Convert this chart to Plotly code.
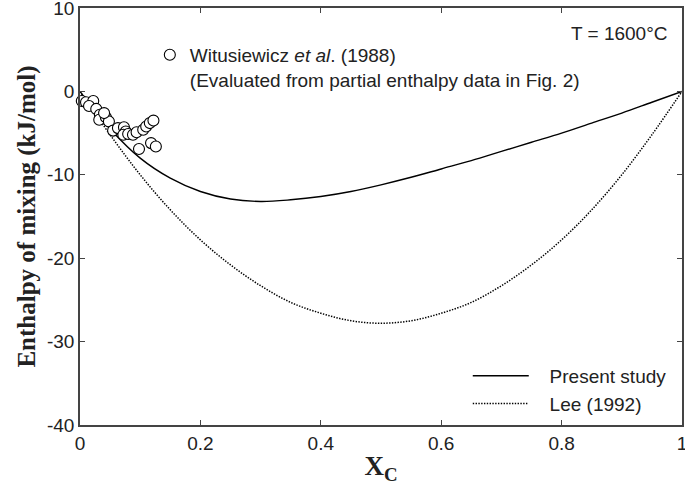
import plotly.graph_objects as go

# Witusiewicz et al. (1988) evaluated points
wit_x = [0.003, 0.010, 0.022, 0.015, 0.027, 0.033, 0.032, 0.043, 0.048, 0.040,
         0.055, 0.063, 0.073, 0.076, 0.072, 0.080, 0.088, 0.094, 0.105, 0.110,
         0.116, 0.122, 0.098, 0.118, 0.126]
wit_y = [-1.15, -1.3, -1.15, -1.75, -2.1, -2.8, -3.4, -3.1, -3.6, -2.6,
         -4.7, -4.4, -4.3, -4.8, -5.2, -5.1, -5.2, -4.9, -4.6, -4.2,
         -3.8, -3.5, -6.9, -6.2, -6.6]

# Present study (calculated)
ps_x = [0, 0.02, 0.05, 0.1, 0.15, 0.2, 0.25, 0.3, 0.35, 0.4, 0.45, 0.5,
        0.55, 0.6, 0.65, 0.7, 0.75, 0.8, 0.85, 0.9, 0.95, 1.0]
ps_y = [0, -1.9, -4.5, -8.0, -10.4, -12.0, -12.9, -13.2, -13.0, -12.6, -12.0, -11.2,
        -10.3, -9.3, -8.3, -7.2, -6.1, -5.0, -3.8, -2.6, -1.3, 0]

# Lee (1992)
lee_x = [0, 0.05, 0.1, 0.15, 0.2, 0.25, 0.3, 0.35, 0.4, 0.45, 0.5,
         0.55, 0.6, 0.65, 0.7, 0.75, 0.8, 0.85, 0.9, 0.95, 1.0]
lee_y = [0, -5.2, -10.0, -14.2, -17.8, -20.8, -23.3, -25.3, -26.6, -27.5, -27.8,
         -27.5, -26.6, -25.3, -23.3, -20.8, -17.8, -14.2, -10.0, -5.2, 0]

x_ticks = [0, 0.2, 0.4, 0.6, 0.8, 1]
x_tick_labels = ["0", "0.2", "0.4", "0.6", "0.8", "1"]
y_ticks = [-40, -30, -20, -10, 0, 10]
y_tick_labels = ["-40", "-30", "-20", "-10", "0", "10"]

FONT = "Liberation Sans, Arial, sans-serif"
SERIF = "Liberation Serif, Times New Roman, serif"
FS = 19
NB = "\u00a0\u00a0\u00a0"

fig = go.Figure()
fig.add_trace(go.Scatter(x=ps_x, y=ps_y, mode="lines", name=NB + "Present study",
                         line=dict(color="black", width=1.4, shape="spline"),
                         legend="legend"))
fig.add_trace(go.Scatter(x=lee_x, y=lee_y, mode="lines", name=NB + "Lee (1992)",
                         line=dict(color="black", width=1.5, dash="1.4px,1.4px", shape="spline"),
                         legend="legend"))
fig.add_trace(go.Scatter(x=wit_x, y=wit_y, mode="markers",
                         name="Witusiewicz <i>et al</i>. (1988)<br>(Evaluated from partial enthalpy data in Fig. 2)",
                         marker=dict(symbol="circle", size=11, color="white",
                                     line=dict(color="black", width=1.1)),
                         legend="legend2", cliponaxis=False))

axis_common = dict(ticks="inside", ticklen=5, tickcolor="#444", tickwidth=1.2,
                   showline=True, linecolor="#444", linewidth=1.5, mirror="ticks",
                   showgrid=False, zeroline=False, automargin=False,
                   ticklabeloverflow="allow",
                   tickfont=dict(size=FS, family=FONT, color="#222"))

fig.update_layout(
    width=685, height=490,
    margin=dict(l=80, r=3, t=8, b=65),
    paper_bgcolor="white", plot_bgcolor="white",
    font=dict(family=FONT, size=FS, color="#222"),
    xaxis=dict(range=[0, 1], tickvals=x_ticks, ticktext=x_tick_labels,
               title=dict(text="<b>X<sub>C</sub></b>", font=dict(family=SERIF, size=27, color="#222"),
                          standoff=4),
               **axis_common),
    yaxis=dict(range=[-40, 10], tickvals=y_ticks, ticktext=y_tick_labels,
               title=dict(text="<b>Enthalpy of mixing (kJ/mol)</b>",
                          font=dict(family=SERIF, size=25, color="#222"), standoff=4),
               **axis_common),
    legend=dict(x=0.983, y=0.005, xanchor="right", yanchor="bottom",
                bgcolor="rgba(0,0,0,0)", font=dict(size=FS, family=FONT, color="#222"),
                itemwidth=56, tracegroupgap=0),
    legend2=dict(x=0.116, y=0.933, xanchor="left", yanchor="top",
                 bgcolor="rgba(0,0,0,0)", font=dict(size=FS, family=FONT, color="#222"),
                 itemwidth=30, valign="top"),
    annotations=[dict(text="T = 1600°C", x=0.98, y=0.97, xref="paper", yref="paper",
                      xanchor="right", yanchor="top", showarrow=False,
                      font=dict(size=FS, family=FONT, color="#222"))],
)

fig.write_html("out.html", config={"displayModeBar": False},
               post_script="document.body.style.margin='0';document.body.style.padding='0';")
